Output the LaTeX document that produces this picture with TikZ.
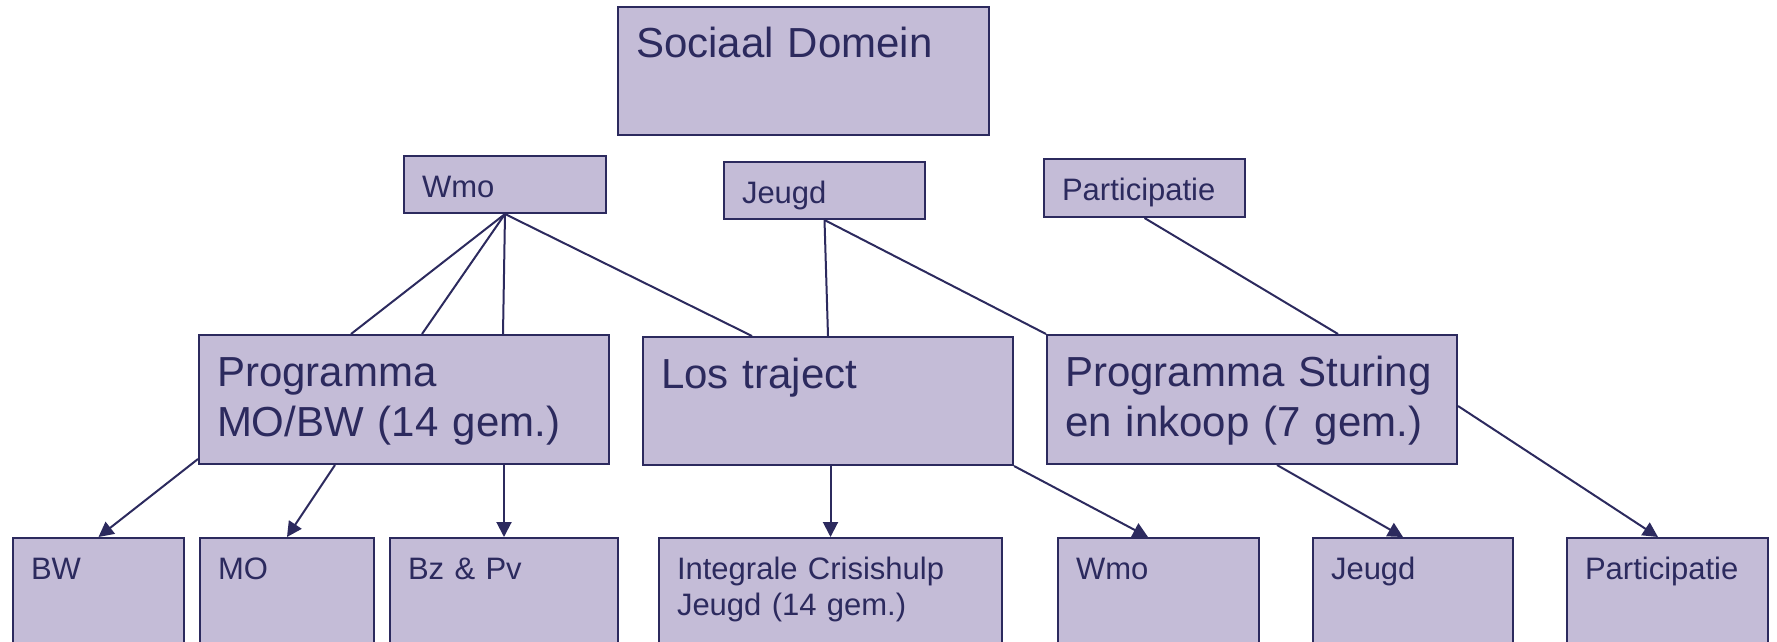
\documentclass[tikz,border=0pt]{standalone}
\usepackage{fontspec}
\setmainfont{Liberation Sans}
\usetikzlibrary{arrows.meta,calc}
\definecolor{boxfill}{RGB}{196,188,215}
\definecolor{boxline}{RGB}{44,42,94}
\tikzset{
  bigbox/.style 2 args={draw=boxline, fill=boxfill, line width=2pt, anchor=north west,
    inner xsep=18pt, inner ysep=0pt, align=left, text=boxline,
    font=\fontsize{42}{50.7}\selectfont, text width={(#1-36)*1pt},
    text height=51pt, text depth={(#2-51)*1pt}},
  smallbox/.style 2 args={draw=boxline, fill=boxfill, line width=2pt, anchor=north west,
    inner xsep=18pt, inner ysep=0pt, align=left, text=boxline,
    font=\fontsize{31}{36.7}\selectfont, text width={(#1-36)*1pt},
    text height=41pt, text depth={(#2-41)*1pt}},
  link/.style={draw=boxline, line width=2pt},
  flow/.style={link, -{Triangle[length=15pt,width=15pt]}}
}
\begin{document}
\begin{tikzpicture}[x=1pt, y=-1pt]
    \clip (0,0) rectangle (1777,642);
    % top
    \node[bigbox={371}{128}] (soc) at (617,6) {Sociaal Domein};
    % themes
    \node[smallbox={202}{57}] (wmo) at (403,155) {Wmo};
    \node[smallbox={201}{57}] (jeugd) at (723,161) {Jeugd};
    \node[smallbox={201}{58}] (part) at (1043,158) {Participatie};
    % programmes
    \node[bigbox={410}{129}] (progmo) at (198,334) {Programma\\MO/BW (14 gem.)};
    \node[bigbox={370}{128}] (los) at (642,336) {Los traject};
    \node[bigbox={410}{129}] (progsi) at (1046,334) {Programma Sturing\\en inkoop (7 gem.)};
    % bottom row
    \foreach \nm/\xx/\ww/\txt in {bw/12/171/BW, mo/199/174/MO, bzpv/389/228/{Bz \& Pv},
        icj/658/343/{Integrale Crisishulp\\Jeugd (14 gem.)}, wmob/1057/201/Wmo,
        jeugdb/1312/200/Jeugd, partb/1566/201/Participatie} {
      \node[smallbox={\ww}{108}] (\nm) at (\xx,537) {\txt};
    }
    % lines
    \foreach \dx in {153,224,305} {
      \draw[link] (wmo.south) -- ($(progmo.north west)+(\dx,0)$);
    }
    \draw[link] (wmo.south) -- ($(los.north west)+(110,0)$);
    \draw[link] (jeugd.south) -- (los.north);
    \draw[link] (jeugd.south) -- (progsi.north west);
    \draw[link] (part.south) -- ($(progsi.north west)+(292,0)$);
    % arrows
    \draw[flow] ($(progmo.south west)+(0,-6)$) -- (bw.north);
    \draw[flow] ($(progmo.south west)+(137,0)$) -- (mo.north);
    \draw[flow] (bzpv.north |- progmo.south) -- (bzpv.north);
    \draw[flow] (icj.north |- los.south) -- (icj.north);
    \draw[flow] (los.south east) -- ($(wmob.north west)+(91,0)$);
    \draw[flow] ($(progsi.south west)+(231,0)$) -- ($(jeugdb.north west)+(91,0)$);
    \draw[flow] ($(progsi.north east)+(0,72)$) -- ($(partb.north west)+(92,0)$);
\end{tikzpicture}
\end{document}
